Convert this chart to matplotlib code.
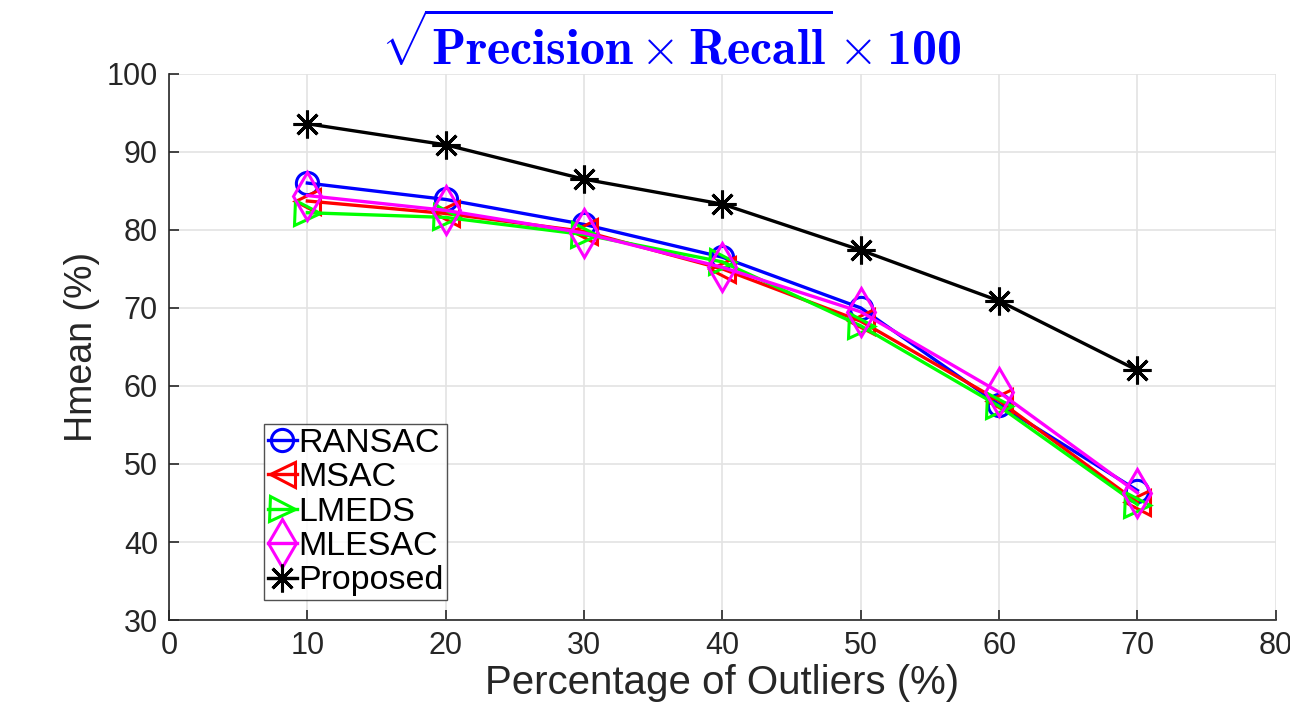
import matplotlib
matplotlib.use("Agg")
import matplotlib.pyplot as plt

plt.rcParams['font.family'] = ['Liberation Sans', 'DejaVu Sans']
plt.rcParams['mathtext.fontset'] = 'custom'
plt.rcParams['mathtext.rm'] = 'cmr10'
plt.rcParams['mathtext.bf'] = 'cmb10'
plt.rcParams['mathtext.it'] = 'cmmi10'
plt.rcParams['mathtext.fallback'] = 'cm'

outliers = [10, 20, 30, 40, 50, 60, 70]
ransac = [86.0, 83.9, 80.7, 76.5, 70.0, 57.6, 46.6]
msac = [83.7, 82.1, 79.8, 75.0, 68.3, 58.1, 45.1]
lmeds = [82.2, 81.6, 79.4, 75.9, 67.7, 57.4, 44.8]
mlesac = [84.4, 82.5, 79.6, 75.2, 69.5, 59.2, 46.3]
proposed = [93.6, 90.9, 86.5, 83.3, 77.4, 70.9, 62.0]

series = [
    ("RANSAC", ransac, (0, 0, 1), 'o', 16),
    ("MSAC", msac, (1, 0, 0), '<', 18),
    ("LMEDS", lmeds, (0, 1, 0), '>', 18),
    ("MLESAC", mlesac, (1, 0, 1), 'd', 24),
    ("Proposed", proposed, (0, 0, 0), (8, 2, 0), 20),
]

title = r'$\sqrt{\mathbf{Precision}\times\mathbf{Recall}}\times\mathbf{100}$'

fig = plt.figure(figsize=(12.9, 7.03), dpi=100)
ax = fig.add_axes([0.131, 0.118, 0.858, 0.777])

for name, vals, col, mk, ms in series:
    ax.plot(outliers, vals, color=col, marker=mk, markersize=ms,
            markerfacecolor='none', markeredgecolor=col, markeredgewidth=2.2,
            linewidth=2.4, label=name)

ax.set_xlim(0, 80)
ax.set_ylim(30, 100)
ax.set_xticks(range(0, 81, 10))
ax.set_yticks(range(30, 101, 10))
ax.grid(True, color='#e3e3e3', linewidth=1.2)
ax.set_axisbelow(True)
for s in ['top', 'right']:
    ax.spines[s].set_visible(False)
for s in ['left', 'bottom']:
    ax.spines[s].set_color('#262626')
    ax.spines[s].set_linewidth(1.2)
ax.tick_params(direction='in', length=7, width=1.2, colors='#262626',
               labelsize=22, pad=8)

ax.set_xlabel('Percentage of Outliers (%)', fontsize=29, color='#262626', labelpad=2)
ax.set_ylabel('Hmean (%)', fontsize=27, color='#262626', labelpad=5)
ax.set_title(title, color=(0, 0, 1), fontsize=36, pad=5, x=0.4535)

leg = ax.legend(loc='lower left', bbox_to_anchor=(0.086, 0.037), fontsize=24.5,
                frameon=True, fancybox=False, edgecolor='#262626',
                handlelength=0.85, handletextpad=0.05, borderpad=0.1,
                labelspacing=0.1, borderaxespad=0)
leg.get_frame().set_linewidth(1.0)

fig.savefig('out.png', dpi=100)
